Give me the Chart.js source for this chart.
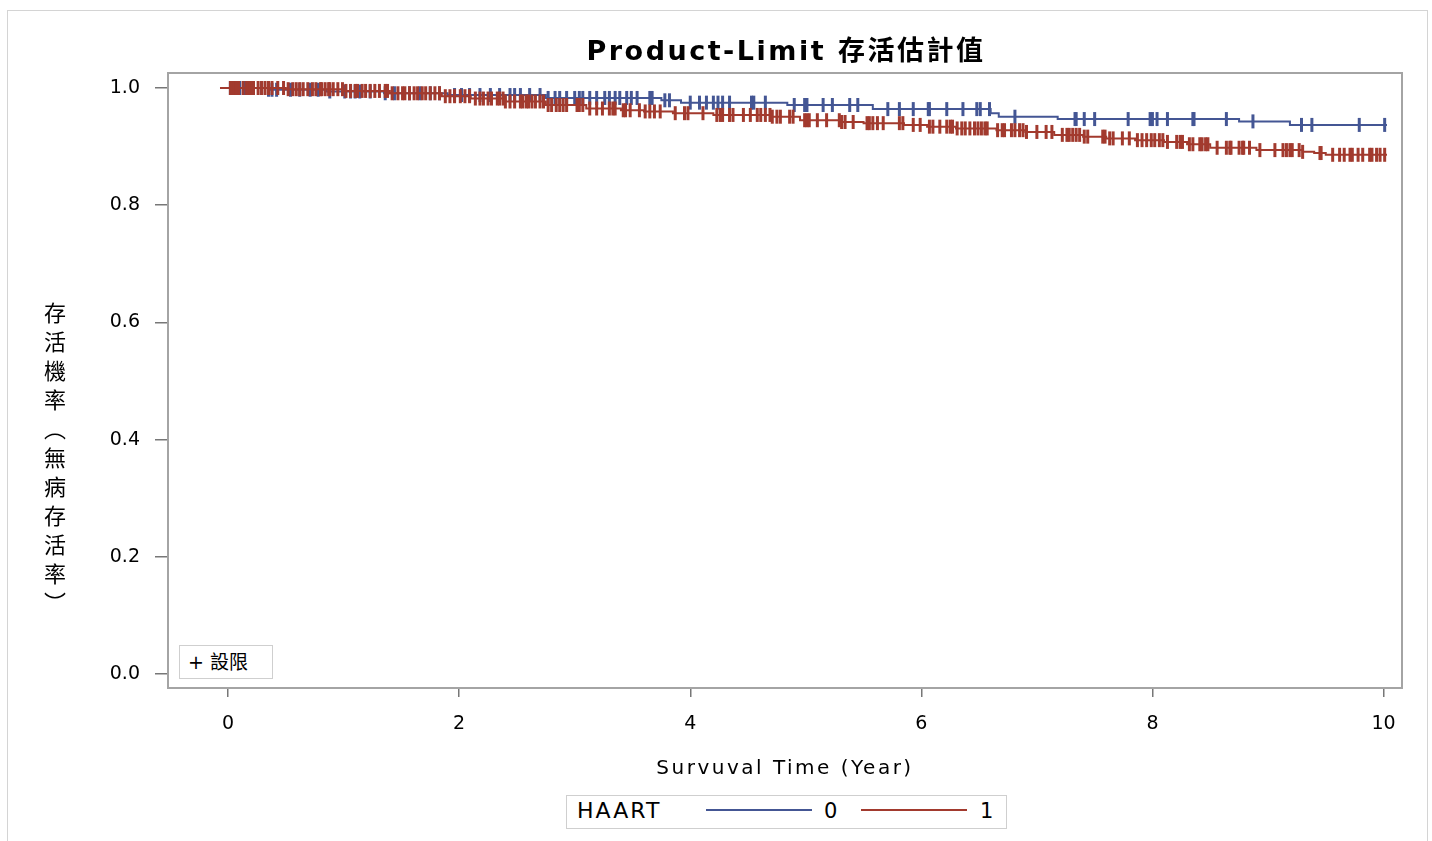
<!DOCTYPE html>
<html>
<head>
<meta charset="utf-8">
<script src="https://cdn.jsdelivr.net/npm/chart.js@4/dist/chart.umd.min.js"></script>
<style>
  body { margin: 0; background: #fff; font-family: "DejaVu Sans", "Noto Sans CJK TC", sans-serif; }
  #wrap { position: relative; width: 1432px; height: 841px; overflow: hidden; }
  #frame { position: absolute; left: 7px; top: 10px; width: 1419px; height: 840px; border: 1px solid #d4d4d4; }
  #kmChart { position: absolute; left: 0; top: 0; }
  .txt { position: absolute; color: #000; white-space: nowrap; }
  #title { left: 0; width: 1572px; top: 29px; text-align: center; font-weight: bold; font-size: 27px; letter-spacing: 2.5px; }
  #xtitle { left: 0; width: 1570px; top: 755px; text-align: center; font-size: 20px; letter-spacing: 2.5px; }
  #ytitle { left: 39px; top: 302px; writing-mode: vertical-rl; font-family: "Noto Sans CJK TC", sans-serif; font-size: 22px; letter-spacing: 7px; }
  #censorBox { position: absolute; left: 179px; top: 645px; width: 92px; height: 32px; border: 1px solid #cfcfcf; background: #fff;
    font-family: "DejaVu Sans", "Noto Sans CJK TC", sans-serif; font-size: 19px; line-height: 32px; text-indent: 8px; }
  #legend { position: absolute; left: 566px; top: 795px; width: 439px; height: 32px; border: 1px solid #cfcfcf; background: #fff; }
  #legend span { position: absolute; top: 3px; font-size: 21px; letter-spacing: 1.5px; }
  #legend span.h { font-size: 22px; letter-spacing: 2px; top: 2px; }
  #legend i { position: absolute; top: 13px; height: 2px; width: 106px; }
</style>
</head>
<body>
<div id="wrap">
  <div id="frame"></div>
  <canvas id="kmChart" width="1432" height="841"></canvas>
  <div id="title" class="txt">Product-Limit 存活估計值</div>
  <div id="xtitle" class="txt">Survuval Time (Year)</div>
  <div id="ytitle" class="txt">存活機率（無病存活率）</div>
  <div id="censorBox">+ 設限</div>
  <div id="legend">
    <span class="h" style="left:10px;">HAART</span>
    <i style="left:139px; background:#445694;"></i>
    <span style="left:257px;">0</span>
    <i style="left:294px; background:#A23A2E;"></i>
    <span style="left:413px;">1</span>
  </div>
</div>
<script>
// Kaplan-Meier step points (time in years, survival) per HAART group
const blueTimes = [0, 0.35, 0.85, 1.35, 1.9, 2.75, 3.75, 3.92, 4.84, 5.58, 6.60, 6.67, 7.18, 8.75, 9.19, 10.03];
const blueSurv  = [1.0, 0.997, 0.994, 0.991, 0.988, 0.983, 0.979, 0.975, 0.971, 0.964, 0.957, 0.951, 0.947, 0.943, 0.937, 0.937];

const redTimes = [-0.07, 0.5, 1.0, 1.4, 1.85, 2.1, 2.4, 2.75, 3.1, 3.4, 3.6, 3.85, 4.2, 4.7, 4.95, 5.3, 5.5, 5.85,
  6.05, 6.3, 6.65, 6.9, 7.15, 7.4, 7.6, 7.85, 8.1, 8.3, 8.5, 8.9, 9.3, 9.4, 9.5, 10.03];
const redSurv = [1.0, 0.998, 0.995, 0.991, 0.986, 0.982, 0.977, 0.971, 0.965, 0.962, 0.960, 0.957, 0.954, 0.951, 0.945,
  0.942, 0.940, 0.937, 0.934, 0.931, 0.928, 0.925, 0.920, 0.917, 0.914, 0.911, 0.908, 0.904, 0.898, 0.894, 0.891, 0.889, 0.886, 0.886];

// censored observation times
const blueCensor = [0.02, 0.04, 0.07, 0.10, 0.15, 0.17, 0.21, 0.29, 0.35, 0.38, 0.42, 0.54, 0.62, 0.71, 0.78, 0.88,
  1.01, 1.06, 1.10, 1.14, 1.23, 1.36, 1.44, 1.57, 1.66, 1.75, 1.83, 1.96, 2.02, 2.09, 2.18, 2.27, 2.35, 2.44, 2.48,
  2.53, 2.61, 2.70, 2.77, 2.83, 2.87, 2.93, 3.00, 3.04, 3.07, 3.13, 3.19, 3.26, 3.30, 3.35, 3.39, 3.45, 3.49, 3.54,
  3.65, 3.67, 3.78, 3.82, 4.00, 4.08, 4.14, 4.20, 4.24, 4.28, 4.34, 4.53, 4.55, 4.65, 4.90, 4.99, 5.01, 5.15, 5.23,
  5.38, 5.45, 5.71, 5.81, 5.93, 6.06, 6.07, 6.22, 6.36, 6.48, 6.51, 6.59, 6.81, 7.33, 7.34, 7.41, 7.50, 7.79, 7.98,
  8.00, 8.04, 8.13, 8.35, 8.36, 8.64, 8.87, 9.29, 9.38, 9.79, 10.01];

const redCensor = [0.02, 0.03, 0.05, 0.07, 0.09, 0.13, 0.16, 0.17, 0.19, 0.21, 0.22, 0.26, 0.29, 0.32, 0.35, 0.38,
  0.43, 0.48, 0.52, 0.56, 0.59, 0.62, 0.65, 0.69, 0.73, 0.76, 0.80, 0.81, 0.84, 0.87, 0.88, 0.91, 0.95, 0.99, 1.02,
  1.06, 1.10, 1.12, 1.16, 1.19, 1.23, 1.27, 1.31, 1.36, 1.38, 1.42, 1.47, 1.51, 1.53, 1.57, 1.61, 1.64, 1.68, 1.71,
  1.75, 1.79, 1.83, 1.88, 1.92, 1.96, 2.01, 2.05, 2.09, 2.14, 2.18, 2.21, 2.25, 2.28, 2.33, 2.35, 2.38, 2.40, 2.44,
  2.48, 2.53, 2.55, 2.58, 2.60, 2.63, 2.66, 2.70, 2.73, 2.77, 2.80, 2.84, 2.87, 2.90, 2.93, 3.02, 3.04, 3.07, 3.13,
  3.19, 3.24, 3.30, 3.33, 3.35, 3.42, 3.44, 3.48, 3.56, 3.61, 3.65, 3.69, 3.74, 3.87, 3.95, 3.98, 4.11, 4.23, 4.26,
  4.28, 4.34, 4.37, 4.46, 4.52, 4.58, 4.61, 4.65, 4.69, 4.71, 4.75, 4.78, 4.86, 4.89, 4.99, 5.01, 5.03, 5.10, 5.18,
  5.29, 5.31, 5.34, 5.41, 5.53, 5.55, 5.58, 5.62, 5.67, 5.81, 5.84, 5.93, 5.99, 6.07, 6.10, 6.16, 6.22, 6.25, 6.27,
  6.31, 6.35, 6.38, 6.42, 6.46, 6.49, 6.52, 6.55, 6.57, 6.66, 6.70, 6.72, 6.78, 6.81, 6.85, 6.88, 6.91, 7.00, 7.08,
  7.13, 7.22, 7.26, 7.28, 7.31, 7.34, 7.37, 7.41, 7.44, 7.57, 7.59, 7.63, 7.66, 7.74, 7.80, 7.87, 7.91, 7.95, 7.99,
  8.02, 8.06, 8.09, 8.13, 8.21, 8.24, 8.26, 8.32, 8.35, 8.41, 8.43, 8.46, 8.48, 8.56, 8.64, 8.67, 8.68, 8.75, 8.78,
  8.79, 8.84, 8.93, 9.06, 9.13, 9.16, 9.19, 9.21, 9.27, 9.30, 9.45, 9.46, 9.56, 9.62, 9.66, 9.71, 9.73, 9.78, 9.82,
  9.88, 9.90, 9.94, 9.97, 10.01];

const xTicks = [0, 2, 4, 6, 8, 10];
const yTicks = [0.0, 0.2, 0.4, 0.6, 0.8, 1.0];

const BLUE = "#445694";
const RED = "#A23A2E";

// survival value of a step curve at time t
function survAt(times, surv, t) {
  let s = surv[0];
  for (let i = 0; i < times.length; i++) {
    if (times[i] <= t) s = surv[i];
  }
  return s;
}

const stepPoints = (times, surv) => times.map((t, i) => ({ x: t, y: surv[i] }));
const censorPoints = (cens, times, surv) => cens.map(t => ({ x: t, y: survAt(times, surv, t) }));

const frame = {
  id: "frame",
  afterDraw(chart) {
    const { ctx, chartArea: a } = chart;
    ctx.save();
    ctx.strokeStyle = "#a4a4a4";
    ctx.lineWidth = 2;
    ctx.strokeRect(a.left, a.top, a.right - a.left, a.bottom - a.top);
    ctx.restore();
  }
};

const tickFont = { family: "DejaVu Sans", size: 19 };

const censorSet = (label, data, color, order) => ({
  label, data, order,
  showLine: false,
  pointStyle: "line",
  rotation: 90,
  pointRadius: 7,
  borderWidth: 3,
  borderColor: color
});

const curveSet = (label, data, color, order) => ({
  label, data, order,
  showLine: true,
  stepped: true,
  borderColor: color,
  borderWidth: 2,
  pointRadius: 0
});

new Chart(document.getElementById("kmChart").getContext("2d"), {
  type: "scatter",
  data: {
    datasets: [
      censorSet("1 censored", censorPoints(redCensor, redTimes, redSurv), RED, 1),
      curveSet("1", stepPoints(redTimes, redSurv), RED, 2),
      censorSet("0 censored", censorPoints(blueCensor, blueTimes, blueSurv), BLUE, 3),
      curveSet("0", stepPoints(blueTimes, blueSurv), BLUE, 4)
    ]
  },
  options: {
    responsive: false,
    animation: false,
    layout: { padding: { top: 73, right: 30, left: 0, bottom: 0 } },
    plugins: {
      legend: { display: false },
      tooltip: { enabled: false }
    },
    scales: {
      x: {
        type: "linear",
        min: -0.52,
        max: 10.16,
        afterFit: s => { s.height = 153; },
        afterBuildTicks: s => { s.ticks = xTicks.map(v => ({ value: v })); },
        border: { display: false },
        grid: { drawOnChartArea: false, drawTicks: true, tickLength: 9, color: "#777", lineWidth: 1.5 },
        ticks: { color: "#000", font: tickFont, padding: 16, maxRotation: 0, callback: v => String(v) }
      },
      y: {
        type: "linear",
        min: -0.024,
        max: 1.0256,
        afterFit: s => { s.width = 168; },
        afterBuildTicks: s => { s.ticks = yTicks.map(v => ({ value: v })); },
        border: { display: false },
        grid: { drawOnChartArea: false, drawTicks: true, tickLength: 13, color: "#777", lineWidth: 1.5 },
        ticks: { color: "#000", font: tickFont, padding: 15, callback: v => v.toFixed(1) }
      }
    }
  },
  plugins: [frame]
});
</script>
</body>
</html>
